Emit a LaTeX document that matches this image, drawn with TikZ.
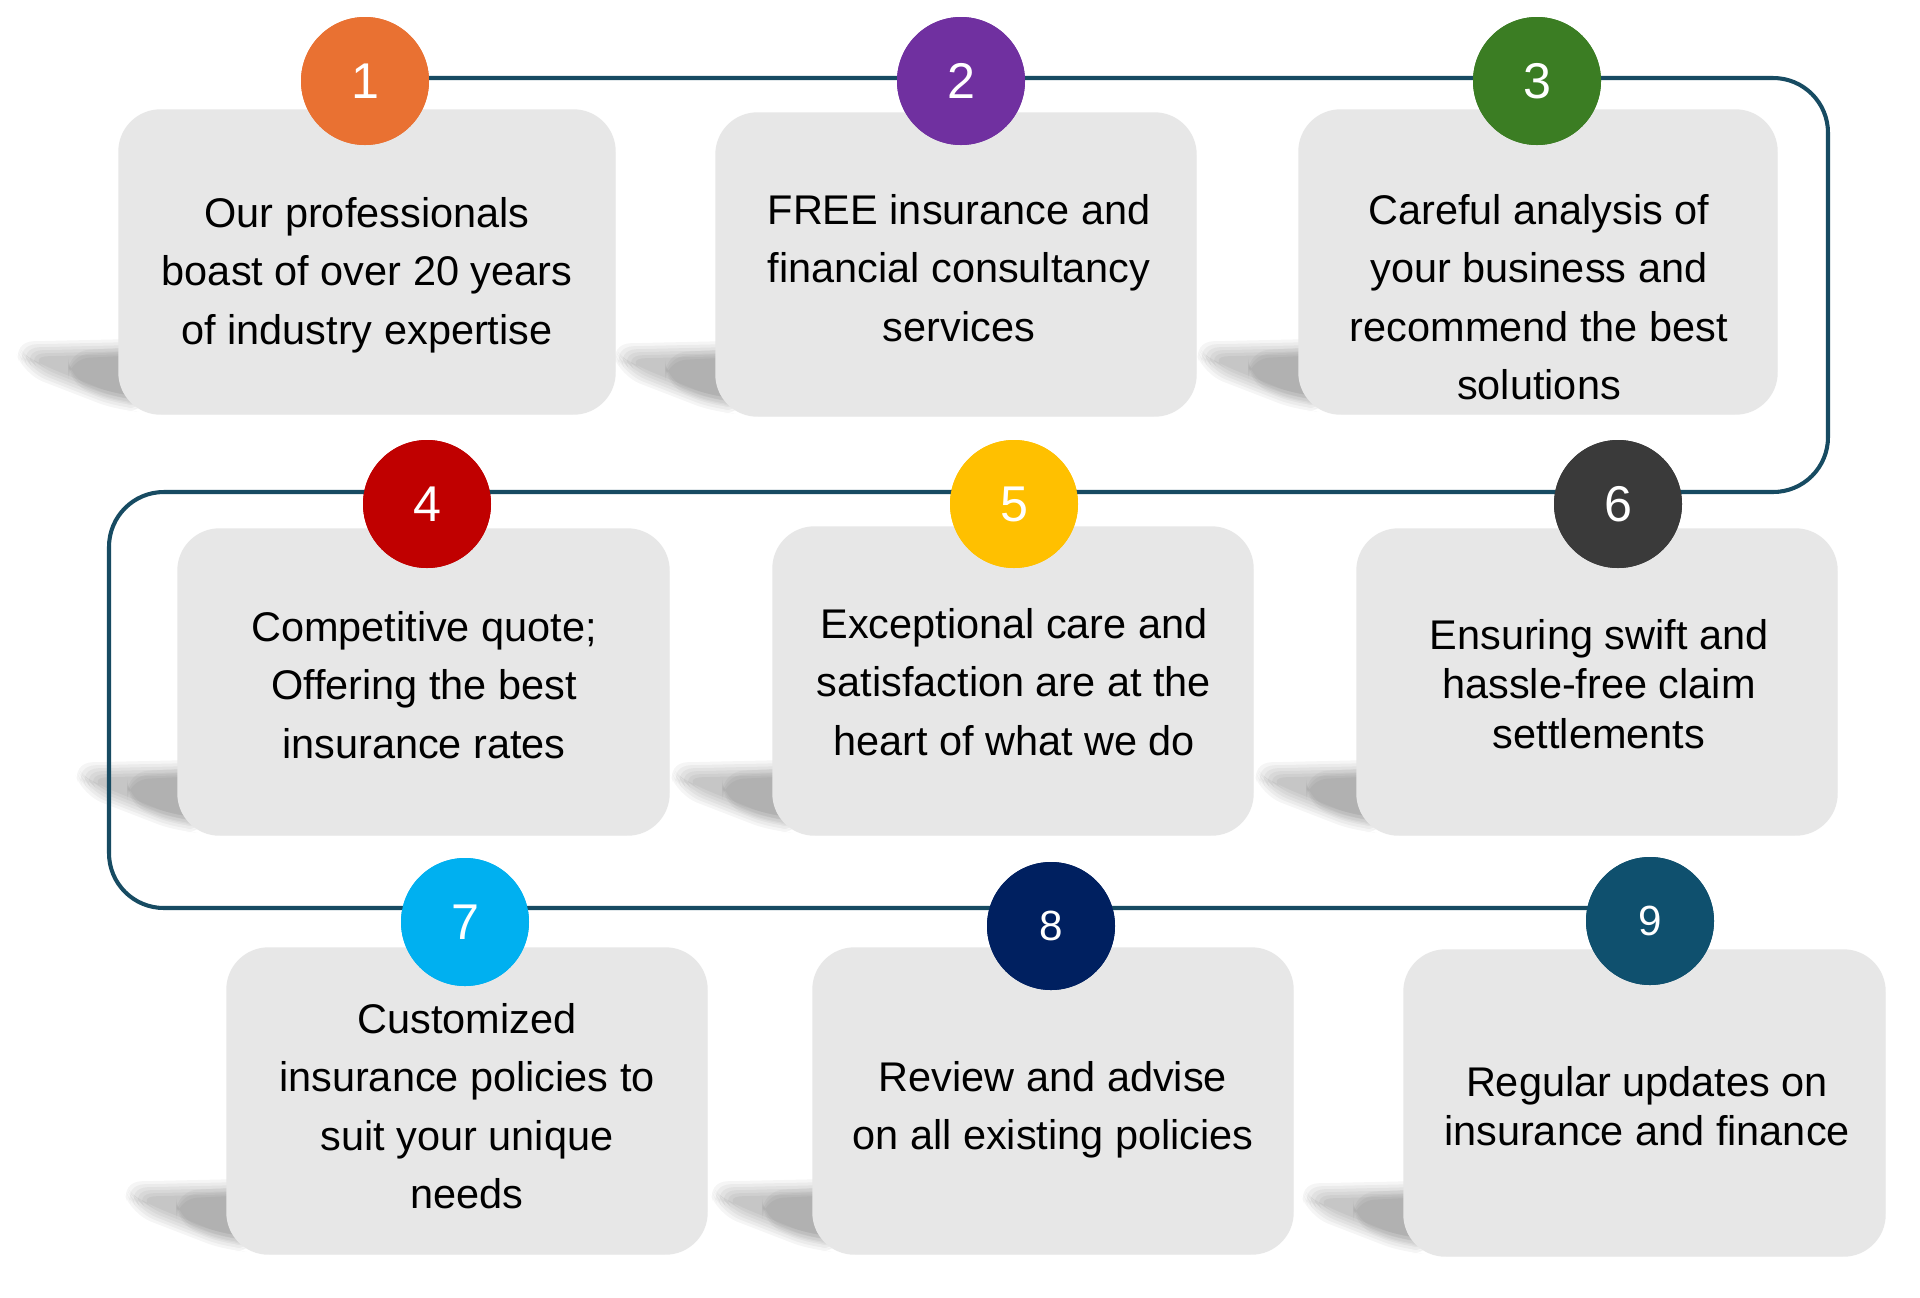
\documentclass[tikz,border=0pt]{standalone}
\usepackage{fontspec}
\setmainfont{Liberation Sans}
\usetikzlibrary{calc}
\definecolor{boxgray}{HTML}{E7E7E7}
\definecolor{linecol}{HTML}{174B62}
\definecolor{cA}{HTML}{E97132}
\definecolor{cB}{HTML}{7030A0}
\definecolor{cC}{HTML}{3B7D23}
\definecolor{cD}{HTML}{C00000}
\definecolor{cE}{HTML}{FFC000}
\definecolor{cF}{HTML}{3A3A3A}
\definecolor{cG}{HTML}{00B0F0}
\definecolor{cH}{HTML}{002060}
\definecolor{cI}{HTML}{0F506E}
\newcommand\castshadow[1]{%
  \coordinate (o) at (#1.south west);
  \foreach \d in {9,6,3,0,-3,-6}{%
    \fill[black, opacity=0.04, rounded corners=6pt]
      ($(o)+({-97-(\d)},{-64-(\d)})$) -- ($(o)+(30,{-67-(\d)})$) --
      ($(o)+(30,{-12+(\d)})$) -- ($(o)+(0,{-13+(\d)})$) --
      ($(o)+({-86-(\d)},{-47+0.7*(\d)})$) -- cycle;}
  \foreach \d in {6,2,-2}{%
    \fill[black, opacity=0.035, rounded corners=6pt]
      ($(o)+(-50,{-58-(\d)})$) -- ($(o)+(30,{-62-(\d)})$) --
      ($(o)+(30,{-16+(\d)})$) -- ($(o)+(0,{-18+(\d)})$) --
      ($(o)+(-50,{-35+0.7*(\d)})$) -- cycle;}
}
\begin{document}
\begin{tikzpicture}[x=0.1mm,y=-0.1mm,
  box/.style={rectangle, rounded corners=12pt, fill=boxgray, draw=none, inner sep=0pt},
  num/.style={circle, minimum size=12.8mm, inner sep=0pt, text=white, font=\fontsize{14.3}{17}\selectfont},
  numsmall/.style={num, font=\fontsize{12}{14}\selectfont},
  txt/.style={align=center, inner sep=0pt, text=black, font=\fontsize{11.8}{16.6}\selectfont},
  txttight/.style={txt, font=\fontsize{11.8}{14}\selectfont},
  conn/.style={draw=linecol, line width=1.15pt, rounded corners=15.6pt}]
\useasboundingbox (0,0) rectangle (1920,1297);
\fill[white] (0,0) rectangle (1920,1297);

% boxes (positions)
\path (367,262) node[box, minimum width=49.6mm, minimum height=30.4mm] (b1) {};
\path (956,264.5) node[box, minimum width=48mm, minimum height=30.3mm] (b2) {};
\path (1538,262) node[box, minimum width=47.8mm, minimum height=30.4mm] (b3) {};
\path (423.5,682) node[box, minimum width=49.1mm, minimum height=30.6mm] (b4) {};
\path (1013,681) node[box, minimum width=48mm, minimum height=30.8mm] (b5) {};
\path (1597,682) node[box, minimum width=48mm, minimum height=30.6mm] (b6) {};
\path (467,1101) node[box, minimum width=48mm, minimum height=30.6mm] (b7) {};
\path (1053,1101) node[box, minimum width=48mm, minimum height=30.6mm] (b8) {};
\path (1644.5,1103) node[box, minimum width=48.1mm, minimum height=30.6mm] (b9) {};

% shadows behind the boxes
\foreach \b in {b1,b2,b3,b4,b5,b6,b7,b8,b9}{\castshadow{\b}}

% redraw boxes on top of shadows
\foreach \b in {b1,b2,b3,b4,b5,b6,b7,b8,b9}{%
  \fill[boxgray, rounded corners=12pt] (\b.south west) rectangle (\b.north east);}

% connector
\coordinate (k1) at (1828,78);
\coordinate (k2) at (1828,492);
\coordinate (k3) at (109,492);
\coordinate (k4) at (109,908);
\path (365,81) node[num, fill=cA] (c1) {1};
\path (961,81) node[num, fill=cB] (c2) {2};
\path (1537,81) node[num, fill=cC] (c3) {3};
\path (427,504) node[num, fill=cD] (c4) {4};
\path (1014,504) node[num, fill=cE] (c5) {5};
\path (1618,504) node[num, fill=cF] (c6) {6};
\path (465,922) node[num, fill=cG] (c7) {7};
\path (1051,926) node[numsmall, fill=cH] (c8) {8};
\path (1650,921) node[numsmall, fill=cI] (c9) {9};
\draw[conn] (c1.center |- k1) -- (k1) -- (k2) -- (k3) -- (k4) -- (c9.center |- k4);
% redraw circles above the connector
\foreach \c/\col/\n/\s in {c1/cA/1/num,c2/cB/2/num,c3/cC/3/num,c4/cD/4/num,c5/cE/5/num,c6/cF/6/num,c7/cG/7/num,c8/cH/8/numsmall,c9/cI/9/numsmall}{%
  \node[\s, fill=\col] at (\c.center) {\n};}

% texts
\node[txt] (t1) at (367,275) {Our professionals\\boast of over 20 years\\of industry expertise};
\node[txt] (t2) at (959,268) {FREE insurance and\\financial consultancy\\services};
\node[txt] (t3) at (1539,297) {Careful analysis of\\your business and\\recommend the best\\solutions};
\node[txt] (t4) at (424,685) {Competitive quote;\\Offering the best\\insurance rates};
\node[txt] (t5) at (1014,682) {Exceptional care and\\satisfaction are at the\\heart of what we do};
\node[txttight] (t6) at (1599,684) {Ensuring swift and\\hassle-free claim\\settlements};
\node[txt] (t7) at (467,1106) {Customized\\insurance policies to\\suit your unique\\needs};
\node[txt] (t8) at (1053,1110) {Review and advise\\on all existing policies};
\node[txttight] (t9) at (1647,1106) {Regular updates on\\insurance and finance};
\end{tikzpicture}
\end{document}
